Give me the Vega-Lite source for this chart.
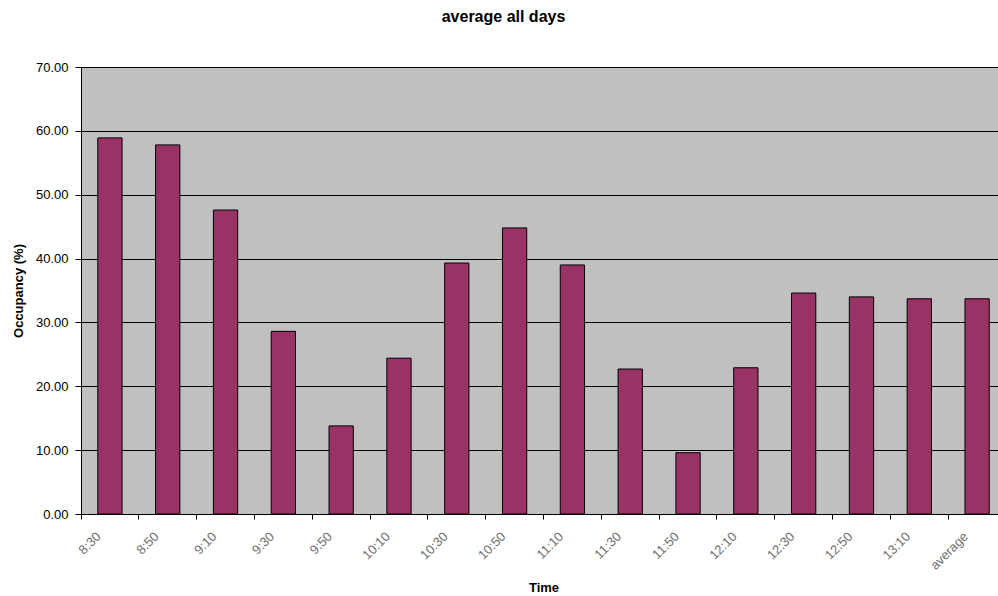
{
  "$schema": "https://vega.github.io/schema/vega-lite/v6.json",
  "autosize": {"type": "none"},
  "padding": {"left": 81, "top": 67, "right": 0, "bottom": 82},
  "width": 925,
  "height": 447,
  "background": "white",
  "title": {"text": "average all days", "font": "Liberation Sans", "fontSize": 16, "fontWeight": "bold", "color": "#000000", "anchor": "middle", "dx": -40, "offset": 36},
  "config": {
    "view": {"fill": "#C0C0C0", "stroke": null},
    "axis": {"labelFont": "Liberation Sans", "titleFont": "Liberation Sans"}
  },
  "data": {"values": [
    {"time": "8:30", "occupancy": 58.9},
    {"time": "8:50", "occupancy": 57.8},
    {"time": "9:10", "occupancy": 47.6},
    {"time": "9:30", "occupancy": 28.6},
    {"time": "9:50", "occupancy": 13.8},
    {"time": "10:10", "occupancy": 24.4},
    {"time": "10:30", "occupancy": 39.3},
    {"time": "10:50", "occupancy": 44.8},
    {"time": "11:10", "occupancy": 39.0},
    {"time": "11:30", "occupancy": 22.7},
    {"time": "11:50", "occupancy": 9.6},
    {"time": "12:10", "occupancy": 22.9},
    {"time": "12:30", "occupancy": 34.6},
    {"time": "12:50", "occupancy": 34.0},
    {"time": "13:10", "occupancy": 33.7},
    {"time": "average", "occupancy": 33.7}
  ]},
  "mark": {"type": "bar", "color": "#993366", "stroke": "#000000", "strokeWidth": 1, "width": {"band": 0.42}},
  "encoding": {
    "x": {
      "field": "time", "type": "nominal", "sort": null,
      "scale": {"paddingInner": 0, "paddingOuter": 0},
      "axis": {
        "title": "Time", "titleFontSize": 13, "titleFontWeight": "bold", "titleColor": "#000000", "titlePadding": 9,
        "bandPosition": 0, "labelAngle": -45, "labelAlign": "right", "labelBaseline": "middle",
        "labelFontSize": 13, "labelColor": "#707070", "labelOffset": -11, "labelPadding": 15,
        "domainColor": "#000000", "tickColor": "#000000", "tickSize": 5, "grid": false
      }
    },
    "y": {
      "field": "occupancy", "type": "quantitative",
      "scale": {"domain": [0, 70], "nice": false},
      "axis": {
        "title": "Occupancy (%)", "titleFontSize": 13, "titleFontWeight": "bold", "titleColor": "#000000", "titlePadding": 10,
        "values": [0, 10, 20, 30, 40, 50, 60, 70], "format": ".2f",
        "labelFontSize": 13, "labelColor": "#000000", "labelPadding": 7,
        "domainColor": "#000000", "tickColor": "#000000", "tickSize": 6,
        "grid": true, "gridColor": "#000000", "gridOpacity": 1, "gridWidth": 1
      }
    }
  }
}
